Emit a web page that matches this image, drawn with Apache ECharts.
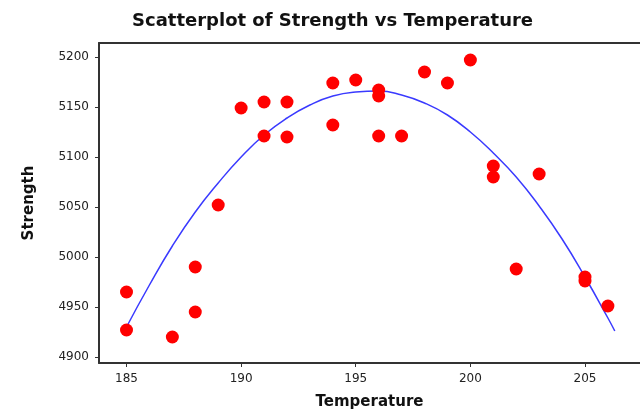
<!DOCTYPE html>
<html>
<head>
<meta charset="utf-8">
<script src="https://cdn.jsdelivr.net/npm/echarts@6/dist/echarts.min.js"></script>
<style>
  html, body { margin: 0; padding: 0; background: #fff; }
  #chart { width: 640px; height: 415px; }
</style>
</head>
<body>
<div id="chart"></div>
<script>
// observed points (Temperature, Strength)
var temperature = [185, 185, 187, 188, 188, 189, 190, 191, 191, 192, 192, 194, 194, 195,
                   196, 196, 196, 197, 198, 199, 200, 201, 201, 202, 203, 205, 205, 206];
var strength = [4965, 4927, 4920, 4990, 4945, 5052, 5149, 5155, 5121, 5155, 5120, 5174, 5132, 5177,
                5167, 5161, 5121, 5121, 5185, 5174, 5197, 5091, 5080, 4988, 5083, 4980, 4976, 4951];

// fitted curve
var fitX = [185, 186, 187, 188, 189, 190, 191, 192, 193, 194, 195, 196,
            197, 198, 199, 200, 201, 202, 203, 204, 205, 206, 206.3];
var fitY = [4930, 4972, 5011, 5045, 5074, 5100, 5122, 5139, 5152, 5161, 5165, 5166,
            5162, 5154, 5142, 5125, 5104, 5080, 5051, 5018, 4980, 4939, 4926];

var xTicks = [185, 190, 195, 200, 205];
var yTicks = [4900, 4950, 5000, 5050, 5100, 5150, 5200];

var points = temperature.map(function (t, i) { return [t, strength[i]]; });
var fitLine = fitX.map(function (t, i) { return [t, fitY[i]]; });

var chart = echarts.init(document.getElementById('chart'));
chart.setOption({
  animation: false,
  title: {
    text: 'Scatterplot of Strength vs Temperature',
    left: 127,
    top: 7,
    textStyle: {
      fontFamily: 'DejaVu Sans',
      fontSize: 18,
      fontWeight: 'bold',
      color: '#111'
    }
  },
  grid: {
    left: 99,
    right: -4,
    top: 43,
    bottom: 49
  },
  xAxis: [{
    type: 'value',
    min: 183.8,
    max: 207.4,
    name: 'Temperature',
    nameLocation: 'middle',
    nameGap: 32,
    nameTextStyle: { fontFamily: 'DejaVu Sans', fontSize: 15, fontWeight: 'bold', color: '#111' },
    axisLine: { lineStyle: { color: '#333', width: 2 } },
    axisTick: { customValues: xTicks, length: 4, lineStyle: { color: '#333' } },
    axisLabel: { customValues: xTicks, margin: 10, fontFamily: 'DejaVu Sans', fontSize: 12, color: '#222' },
    splitLine: { show: false }
  }, {
    // top frame line only
    type: 'value',
    position: 'top',
    min: 183.8,
    max: 207.4,
    axisLine: { show: true, lineStyle: { color: '#333', width: 2 } },
    axisTick: { show: false },
    axisLabel: { show: false },
    splitLine: { show: false }
  }],
  yAxis: {
    type: 'value',
    min: 4894,
    max: 5214,
    name: 'Strength',
    nameLocation: 'middle',
    nameRotate: 90,
    nameGap: 62,
    nameTextStyle: { fontFamily: 'DejaVu Sans', fontSize: 15, fontWeight: 'bold', color: '#111' },
    axisLine: { show: true, lineStyle: { color: '#333', width: 2 } },
    axisTick: { show: true, customValues: yTicks, length: 4, lineStyle: { color: '#333' } },
    axisLabel: {
      customValues: yTicks,
      margin: 10,
      formatter: function (v) { return String(v); },
      fontFamily: 'DejaVu Sans',
      fontSize: 12,
      color: '#222'
    },
    splitLine: { show: false }
  },
  series: [
    {
      type: 'line',
      data: fitLine,
      smooth: true,
      symbol: 'none',
      lineStyle: { color: '#3a3aff', width: 1.5 },
      z: 1
    },
    {
      type: 'scatter',
      data: points,
      symbol: 'circle',
      symbolSize: 13,
      itemStyle: { color: '#ff0000', opacity: 1 },
      z: 2
    }
  ]
});
</script>
</body>
</html>
